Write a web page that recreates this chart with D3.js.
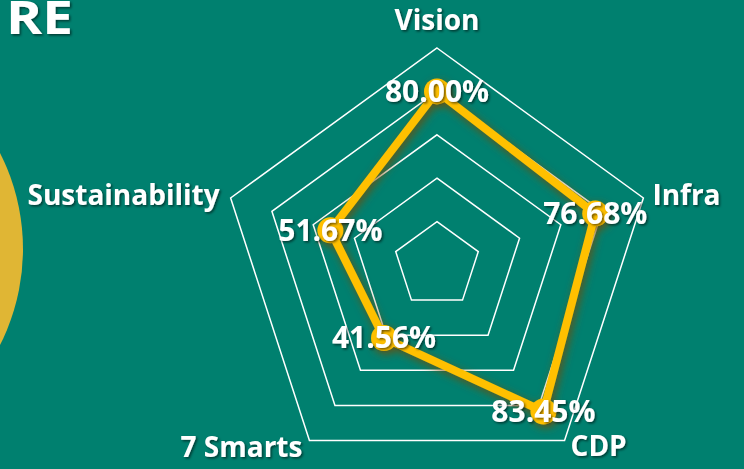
<!DOCTYPE html>
<html>
<head>
<meta charset="utf-8">
<script src="https://cdn.jsdelivr.net/npm/d3@7"></script>
<style>
  html, body { margin: 0; padding: 0; background: #00806f; overflow: hidden; }
  text { font-family: "Open Sans", "Noto Sans", sans-serif; font-weight: 700; fill: #fff; }
</style>
</head>
<body>
<div id="radar"></div>
<script>
// Dati
const axes = ['Vision', 'Infra', 'CDP', '7 Smarts', 'Sustainability'];
const values = [80.00, 76.68, 83.45, 41.56, 51.67];
const levels = [20, 40, 60, 80, 100];

// Variabili
const [width, height] = [744, 469];
const [cx, cy, radius] = [437, 265, 217];
const yellow = '#ffc000';

const svg = d3.select('#radar')
  .append('svg')
  .attr('width', width)
  .attr('height', height);

const defs = svg.append('defs');
defs.append('filter').attr('id', 'txtShadow')
  .attr('x', '-20%').attr('y', '-40%').attr('width', '140%').attr('height', '180%')
  .append('feDropShadow')
  .attr('dx', 1.5).attr('dy', 1.5).attr('stdDeviation', 1)
  .attr('flood-color', '#000').attr('flood-opacity', 0.55);
defs.append('filter').attr('id', 'glow')
  .attr('x', '-30%').attr('y', '-30%').attr('width', '160%').attr('height', '160%')
  .append('feDropShadow')
  .attr('dx', 2).attr('dy', 3).attr('stdDeviation', 4)
  .attr('flood-color', '#7a4a00').attr('flood-opacity', 0.85);

// Decorazioni
svg.append('rect').attr('width', width).attr('height', height).attr('fill', '#00806f');
svg.append('circle').attr('cx', -189).attr('cy', 249).attr('r', 212).attr('fill', '#e0b634');
svg.append('text')
  .attr('x', 6).attr('y', 34)
  .attr('textLength', 67)
  .attr('lengthAdjust', 'spacingAndGlyphs')
  .attr('filter', 'url(#txtShadow)')
  .style('font-size', '46px')
  .text('RE');

// Scale
const rScale = d3.scaleLinear().domain([0, 100]).range([0, radius]);
const angle = (i) => (i * 2 * Math.PI) / axes.length;
const point = (i, v) => [cx + rScale(v) * Math.sin(angle(i)), cy - rScale(v) * Math.cos(angle(i))];

const g = svg.append('g');

// Griglia
const ringLine = d3.line().curve(d3.curveLinearClosed);
g.selectAll('.ring')
  .data(levels)
  .enter()
  .append('path')
  .attr('class', 'ring')
  .attr('d', (lv) => ringLine(axes.map((a, i) => point(i, lv))))
  .attr('fill', 'none')
  .attr('stroke', '#fff')
  .attr('stroke-width', 1.5);

// Etichette assi
const labelOffsets = [[0, -28, 'middle'], [9, -3, 'start'], [6, 6, 'start'], [-7, 7, 'end'], [-11, -3, 'end']];
g.selectAll('.axisLabel')
  .data(axes)
  .enter()
  .append('text')
  .attr('class', 'axisLabel')
  .attr('x', (d, i) => point(i, 100)[0] + labelOffsets[i][0])
  .attr('y', (d, i) => point(i, 100)[1] + labelOffsets[i][1])
  .attr('dy', '0.35em')
  .attr('text-anchor', (d, i) => labelOffsets[i][2])
  .attr('filter', 'url(#txtShadow)')
  .style('font-size', '28px')
  .text((d) => d);

// Serie
const series = g.append('g').attr('filter', 'url(#glow)');
series.append('path')
  .attr('d', ringLine(values.map((v, i) => point(i, v))))
  .attr('fill', 'none')
  .attr('stroke', yellow)
  .attr('stroke-width', 8)
  .attr('stroke-linejoin', 'round');
series.selectAll('circle')
  .data(values)
  .enter()
  .append('circle')
  .attr('cx', (d, i) => point(i, d)[0])
  .attr('cy', (d, i) => point(i, d)[1])
  .attr('r', 13)
  .attr('fill', yellow);

// Valori
g.selectAll('.valLabel')
  .data(values)
  .enter()
  .append('text')
  .attr('class', 'valLabel')
  .attr('x', (d, i) => point(i, d)[0])
  .attr('y', (d, i) => point(i, d)[1])
  .attr('dy', '0.35em')
  .attr('text-anchor', 'middle')
  .attr('filter', 'url(#txtShadow)')
  .style('font-size', '30px')
  .text((d) => `${d.toFixed(2)}%`);
</script>
</body>
</html>
